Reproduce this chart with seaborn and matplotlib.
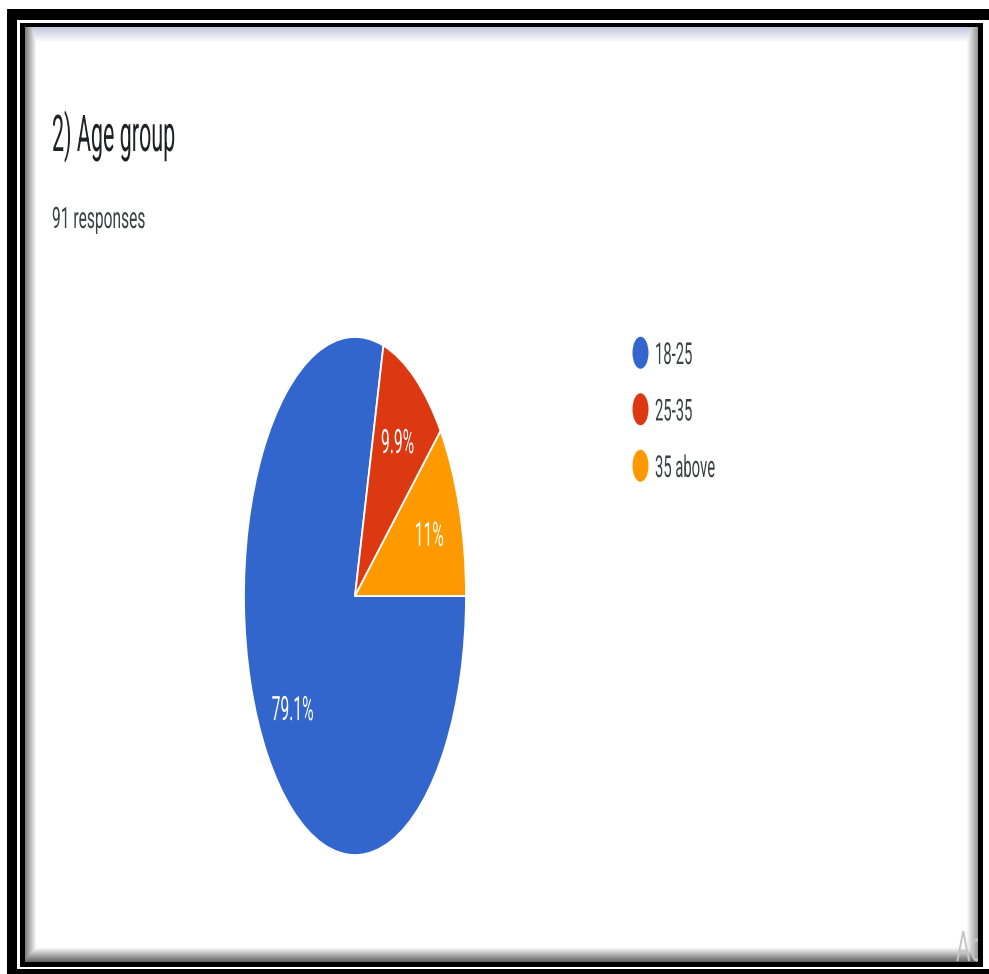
import numpy as np
import matplotlib
matplotlib.use("Agg")
import matplotlib.pyplot as plt
import seaborn as sns
from matplotlib import patheffects
from matplotlib.patches import Ellipse
from matplotlib.transforms import Affine2D, ScaledTranslation, Bbox, TransformedBbox

# ---- data -------------------------------------------------------------
age_groups = ["18-25", "25-35", "35 above"]
responses = [72, 9, 10]
slice_colors = ["#3366cc", "#dc3912", "#ff9900"]
question = "2) Age group"
subtitle = f"{sum(responses)} responses"

# ---- figure -----------------------------------------------------------
W, H, DPI = 989, 974, 100
sns.set_theme(style="white")
plt.rcParams["font.family"] = ["Roboto", "DejaVu Sans"]

fig = plt.figure(figsize=(W / DPI, H / DPI), dpi=DPI)
fig.patch.set_facecolor("white")


def fx(px):
    return px / W


def fy(py):
    return 1 - py / H


# framed card: double black border with a soft inner shadow
bg = np.ones((H, W, 3))
yy, xx = np.mgrid[0:H, 0:W].astype(float)
px0, px1, py0, py1 = 25, 978, 27, 962
inside = (xx >= px0) & (xx < px1) & (yy >= py0) & (yy < py1)


def ramp(dist, width, strength):
    return strength * np.clip(1 - dist / width, 0, 1)


dark = np.maximum.reduce([
    ramp(xx - px0, 11, 0.50),
    ramp(px1 - 1 - xx, 11, 0.40),
    ramp(py1 - 1 - yy, 14, 0.60),
])
top = ramp(yy - py0, 15, 0.22)
for c, tint in enumerate([1.0, 1.0, 0.55]):
    bg[..., c] = np.where(inside, 1 - np.maximum(dark, top * tint), bg[..., c])

bg[9:20, 7:] = 0          # outer top band
bg[9:, 7:17] = 0          # outer left band
bg[969:, 7:] = 0          # outer bottom band
bg[23:27, 20:983] = 0     # inner rectangle
bg[962:967, 20:983] = 0
bg[23:967, 20:25] = 0
bg[23:967, 978:983] = 0
fig.figimage(bg, xo=0, yo=0, origin="upper", zorder=-5)


# ---- tall, narrow lettering -------------------------------------------
class VStretch(patheffects.AbstractPathEffect):
    """Stretch glyphs vertically about their baseline."""

    def __init__(self, k):
        super().__init__()
        self._k = k

    def draw_path(self, renderer, gc, tpath, affine, rgbFace=None):
        renderer.draw_path(gc, tpath, Affine2D().scale(1, self._k) + affine, rgbFace)


CAP = 0.711
renderer = fig.canvas.get_renderer()


def size_for(text_obj, width_px):
    text_obj.set_fontsize(20)
    w = text_obj.get_window_extent(renderer).width
    return 20 * width_px / w


def stretch(text_obj, size, cap_px):
    text_obj.set_fontsize(size)
    text_obj.set_path_effects([VStretch(cap_px / (CAP * size * DPI / 72))])


t = fig.text(fx(52), fy(151), question, ha="left", va="baseline", color="#202124")
stretch(t, size_for(t, 123), 36)

t = fig.text(fx(52), fy(228), subtitle, ha="left", va="baseline", color="#3c4043")
stretch(t, size_for(t, 93), 21)

# ---- pie --------------------------------------------------------------
ax = fig.add_axes([fx(244), fy(855), fx(466) - fx(244), (855 - 337) / H], zorder=2)
ax.set_facecolor("none")


def pct_label(p):
    return f"{p:.1f}".rstrip("0").rstrip(".") + "%"


wedges, _, autotexts = ax.pie(
    responses,
    colors=slice_colors,
    startangle=0,
    counterclock=False,
    autopct=pct_label,
    pctdistance=0.71,
    wedgeprops=dict(edgecolor="white", linewidth=1.3),
)
ax.set_aspect("auto")
ax.set_xlim(-1, 1)
ax.set_ylim(-1, 1)
ax.axis("off")

label_cap = 24
shift = ScaledTranslation(0, -label_cap / 2 / DPI, fig.dpi_scale_trans)
lab_size = size_for(autotexts[0], 42)
for at in autotexts:
    at.set_color("white")
    at.set_va("baseline")
    at.set_ha("center")
    at.set_transform(ax.transData + shift)
    stretch(at, lab_size, label_cap)

# ---- legend -----------------------------------------------------------
leg_x, leg_y0, leg_dy, leg_cap = 655, 364, 56.5, 21.5
leg_texts = []
for i, (name, col) in enumerate(zip(age_groups, slice_colors)):
    base = leg_y0 + i * leg_dy
    fig.add_artist(Ellipse((fx(640.5), fy(base - leg_cap / 2 - 0.5)),
                           width=16 / W, height=32 / H,
                           transform=fig.transFigure, facecolor=col, edgecolor="none"))
    lt = fig.text(fx(leg_x), fy(base), name, ha="left", va="baseline", color="#3c4043")
    leg_texts.append(lt)
leg_size = size_for(leg_texts[2], 60)
for lt in leg_texts:
    stretch(lt, leg_size, leg_cap)

# faint overlay text in the lower-right corner of the card
wm = fig.text(fx(956), fy(961), "Ac", ha="left", va="baseline", color="#c4c4c4")
stretch(wm, size_for(wm, 26), 30)
wm.set_clip_box(TransformedBbox(Bbox.from_extents(fx(25), fy(962), fx(978), fy(27)),
                                fig.transFigure))
wm.set_clip_on(True)

fig.savefig("out.png", dpi=DPI)
